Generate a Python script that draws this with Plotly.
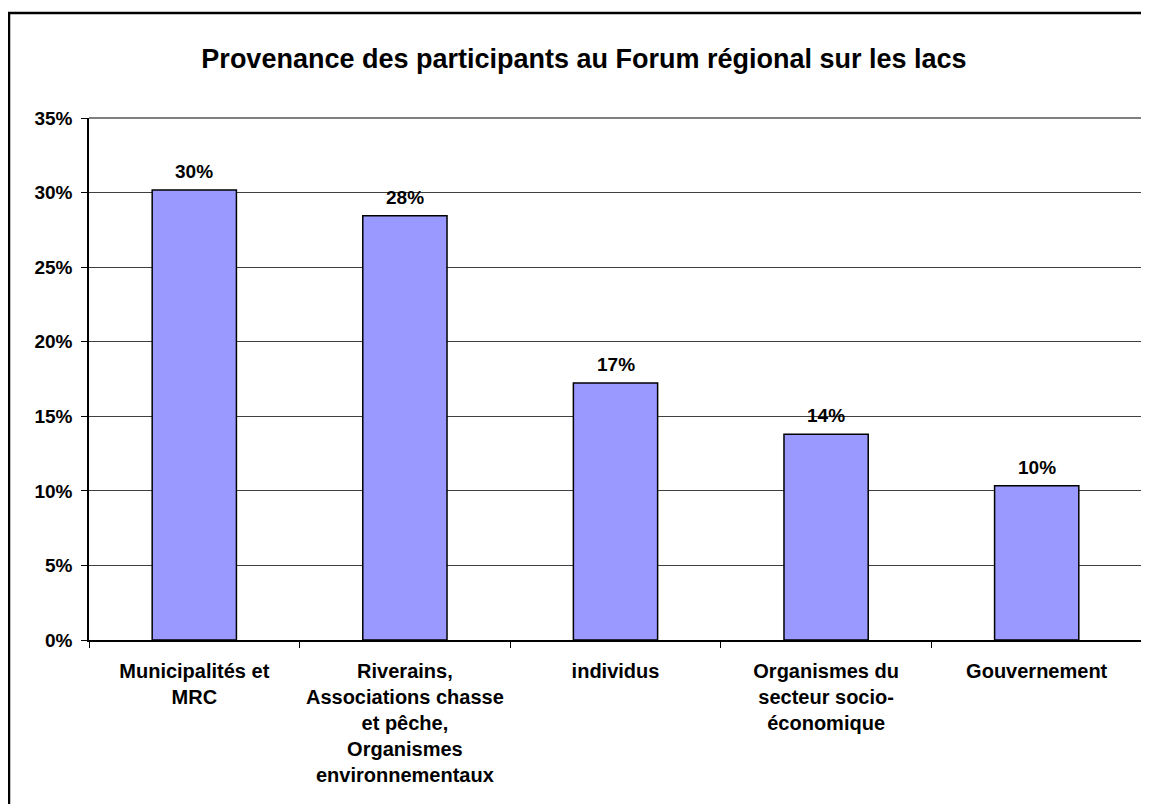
import plotly.graph_objects as go

categories = [
    "Municipalités et<br>MRC",
    "Riverains,<br>Associations chasse<br>et pêche,<br>Organismes<br>environnementaux",
    "individus",
    "Organismes du<br>secteur socio-<br>économique",
    "Gouvernement",
]
values = [0.3017, 0.2845, 0.1724, 0.1379, 0.1034]
y_ticks = [0, 0.05, 0.10, 0.15, 0.20, 0.25, 0.30, 0.35]
y_tick_labels = ["0%", "5%", "10%", "15%", "20%", "25%", "30%", "35%"]
title_text = "Provenance des participants au Forum régional sur les lacs"

FONT = "Arial, 'Liberation Sans', sans-serif"
OFF = 8  # page body margin
W, H = 1149 - OFF, 804 - OFF
L, R, T, B = 89 - OFF, 1142 - OFF, 118 - OFF, 640 - OFF

fig = go.Figure()
fig.add_trace(go.Bar(
    x=categories, y=values,
    marker=dict(color="#9999FF", line=dict(color="#000000", width=1.5)),
    width=0.4, hoverinfo="skip",
))

for c, v in zip(categories, values):
    fig.add_annotation(
        x=c, y=v, xref="x", yref="y", text=f"<b>{v*100:.0f}%</b>",
        showarrow=False, yanchor="bottom", yshift=6,
        font=dict(family=FONT, size=19, color="#000000"),
    )

pw = R - L
ph = B - T
def px_x(px):
    return (px - OFF - L) / pw
def px_y(py):
    return (B - (py - OFF)) / ph

# plot area border (gray): top and right
fig.add_shape(type="line", xref="paper", yref="paper",
              x0=0, x1=1, y0=1, y1=1,
              line=dict(color="#808080", width=2), layer="above")
fig.add_shape(type="line", xref="paper", yref="paper",
              x0=1, x1=1, y0=0, y1=1,
              line=dict(color="#808080", width=2), layer="above")
# outer chart border (black)
fig.add_shape(type="rect", xref="paper", yref="paper",
              x0=px_x(9), x1=px_x(1165), y0=px_y(830), y1=px_y(13),
              line=dict(color="#000000", width=2.5), layer="above")

fig.update_layout(
    width=W, height=H,
    margin=dict(l=L, r=W - R, t=T, b=H - B),
    paper_bgcolor="#FFFFFF", plot_bgcolor="#FFFFFF",
    showlegend=False,
    bargap=0.6,
    title=dict(
        text=f"<b>{title_text}</b>",
        x=(584 - OFF) / W, xanchor="center",
        y=1 - (59 - OFF) / H, yanchor="middle", yref="container",
        font=dict(family=FONT, size=27, color="#000000"),
    ),
    font=dict(family=FONT, color="#000000"),
)
fig.update_xaxes(
    type="category",
    tickson="boundaries", ticks="outside", ticklen=6, tickcolor="#000000",
    showline=True, linecolor="#000000", linewidth=1.5,
    showgrid=False,
    tickfont=dict(family=FONT, size=20, color="#000000", weight="bold"),
    ticklabelstandoff=12,
)
fig.update_yaxes(
    range=[0, 0.35],
    tickvals=y_ticks, ticktext=y_tick_labels,
    ticks="outside", ticklen=6, tickcolor="#000000",
    showline=True, linecolor="#000000", linewidth=1.5,
    showgrid=True, gridcolor="#404040", gridwidth=1,
    zeroline=False,
    tickfont=dict(family=FONT, size=19, color="#000000", weight="bold"),
    ticklabelstandoff=5,
)

fig.write_html("out.html")
